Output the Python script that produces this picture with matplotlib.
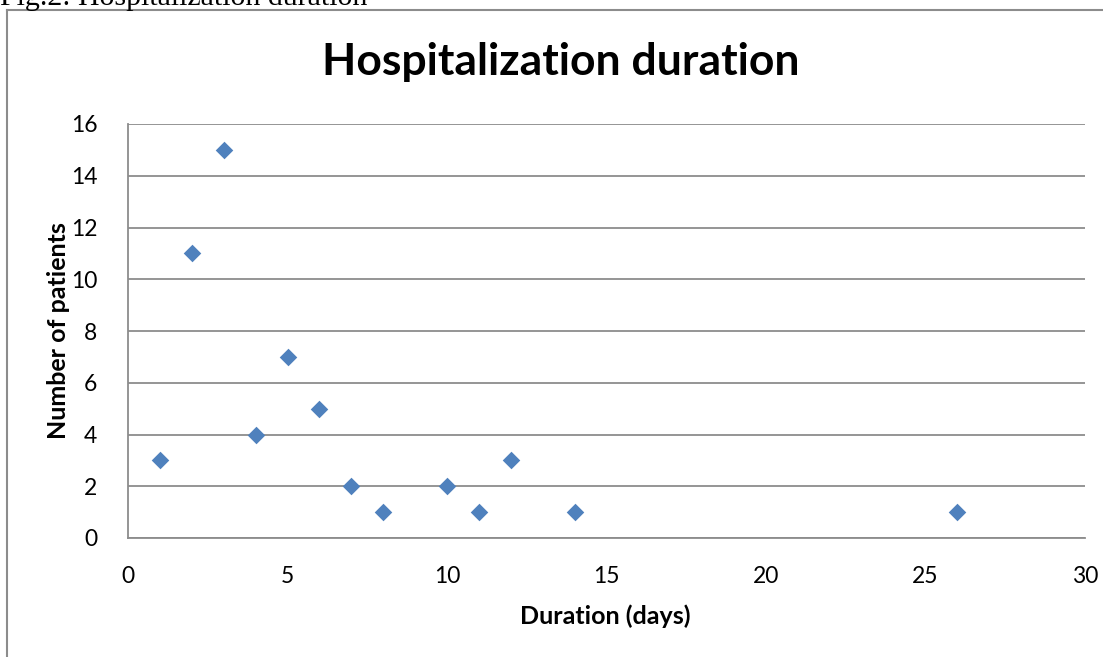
import matplotlib.pyplot as plt
from matplotlib.lines import Line2D

# hospitalization duration scatter (Excel style)
days = [1, 2, 3, 4, 5, 6, 7, 8, 10, 11, 12, 14, 26]
patients = [3, 11, 15, 4, 7, 5, 2, 1, 2, 1, 3, 1, 1]
xticks = [0, 5, 10, 15, 20, 25, 30]
yticks = [0, 2, 4, 6, 8, 10, 12, 14, 16]

W, H = 1103, 657
fig = plt.figure(figsize=(W / 100, H / 100), dpi=100)
plt.rcParams['font.family'] = ['Lato', 'DejaVu Sans']

ax = fig.add_axes([128 / W, 1 - 538 / H, (1085 - 128) / W, (538 - 124) / H])
ax.scatter(days, patients, marker='D', s=80, color='#4F81BD', zorder=3, linewidths=0)
ax.set_xlim(0, 30)
ax.set_ylim(0, 16)
ax.set_xticks(xticks)
ax.set_yticks(yticks)
ax.tick_params(length=0, labelsize=16.5)
ax.tick_params(axis='x', pad=20)
ax.tick_params(axis='y', pad=22)
ax.grid(axis='y', color='#8c8c8c', lw=1.3)
for s in ['top', 'right']:
    ax.spines[s].set_visible(False)
for s in ['left', 'bottom']:
    ax.spines[s].set_color('#8c8c8c')
    ax.spines[s].set_linewidth(1.3)

fig.text(561 / W, 1 - 62 / H, 'Hospitalization duration', ha='center', va='center',
         fontsize=32, fontweight='bold')
fig.text(605 / W, 1 - 616 / H, 'Duration (days)', ha='center', va='center',
         fontsize=18, fontweight='bold')
fig.text(58 / W, 1 - 331 / H, 'Number of patients', ha='center', va='center',
         fontsize=18, fontweight='bold', rotation=90)

# caption cut off at the top edge, as in the source image
fig.text(0, 1 - 5 / H, 'Fig.2: Hospitalization duration', ha='left', va='baseline',
         fontsize=21.5, family='Liberation Serif')

# outer frame of the chart area
fig.add_artist(Line2D([7 / W, 7 / W], [0, 1 - 10 / H], transform=fig.transFigure,
                      color='#8c8c8c', lw=1.5))
fig.add_artist(Line2D([7 / W, 1], [1 - 10 / H, 1 - 10 / H], transform=fig.transFigure,
                      color='#8c8c8c', lw=1.5))

fig.savefig('out.png', dpi=100)
